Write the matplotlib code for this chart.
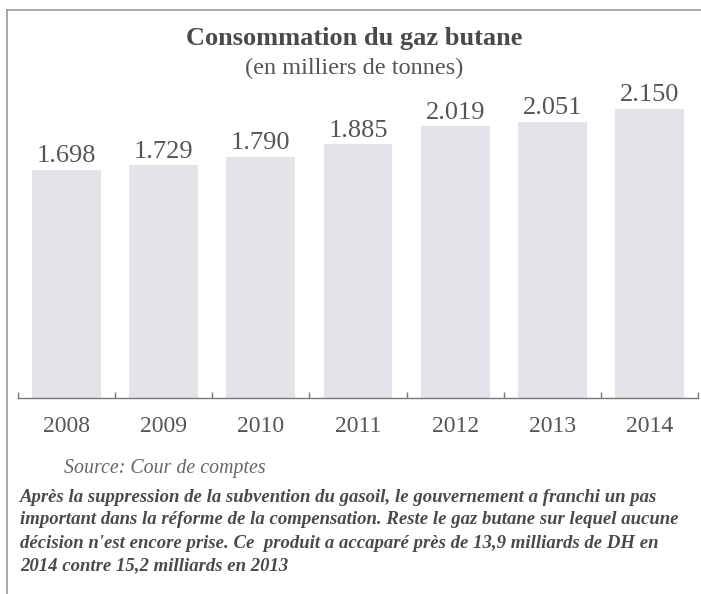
import matplotlib
matplotlib.use("Agg")
import matplotlib.pyplot as plt
from matplotlib.lines import Line2D

matplotlib.rcParams["font.family"] = ["Liberation Serif", "DejaVu Serif"]

years = ["2008", "2009", "2010", "2011", "2012", "2013", "2014"]
consumption = [1698, 1729, 1790, 1885, 2019, 2051, 2150]
value_labels = ["1.698", "1.729", "1.790", "1.885", "2.019", "2.051", "2.150"]

title = "Consommation du gaz butane"
subtitle = "(en milliers de tonnes)"
source = "Source: Cour de comptes"
comment_lines = [
    "Après la suppression de la subvention du gasoil, le gouvernement a franchi un pas",
    "important dans la réforme de la compensation. Reste le gaz butane sur lequel aucune",
    "décision n'est encore prise. Ce  produit a accaparé près de 13,9 milliards de DH en",
    "2014 contre 15,2 milliards en 2013",
]

W, H = 701, 594


def fx(px):
    return px / W


def fy(py):
    return 1 - py / H


def main():
    fig = plt.figure(figsize=(W / 100, H / 100), dpi=100)
    fig.patch.set_facecolor("white")

    # axes: baseline at y=398 px, x from 18 to 698 px
    ax = fig.add_axes([fx(18), fy(398), fx(698) - fx(18), fy(12) - fy(398)])
    x = list(range(len(years)))
    ax.bar(x, consumption, width=0.71, color="#e3e3e9", edgecolor="none")
    ax.set_xlim(-0.5, len(years) - 0.5)
    ax.set_ylim(0, 2870)

    for xi, v, lab in zip(x, consumption, value_labels):
        ax.annotate(lab, (xi, v), xytext=(0, 2), textcoords="offset points",
                    ha="center", va="bottom", fontsize=19, color="#555555")

    for side in ["top", "right", "left"]:
        ax.spines[side].set_visible(False)
    ax.spines["bottom"].set_color("#777777")
    ax.spines["bottom"].set_linewidth(1.0)
    ax.set_yticks([])
    ax.set_xticks([i - 0.5 for i in range(len(years) + 1)])
    ax.set_xticklabels([])
    ax.tick_params(axis="x", which="major", direction="in", length=4, width=1, color="#777777")
    ax.set_xticks(x, minor=True)
    ax.set_xticklabels(years, minor=True)
    ax.tick_params(axis="x", which="minor", length=0, pad=13, labelsize=17, labelcolor="#555555")

    fig.text(fx(354), fy(38), title, ha="center", va="center", fontsize=19,
             fontweight="bold", color="#4a4a4a")
    fig.text(fx(354), fy(68), subtitle, ha="center", va="center", fontsize=17.5,
             color="#555555")

    fig.text(fx(64), fy(469), source, ha="left", va="center", fontsize=14.3,
             style="italic", color="#666666")
    for i, line in enumerate(comment_lines):
        fig.text(fx(20), fy(497 + 23 * i), line, ha="left", va="center", fontsize=13.5,
                 style="italic", fontweight="bold", color="#4a4a4a")

    # scanned frame: top and left edges
    fig.add_artist(Line2D([fx(7), fx(701)], [fy(10), fy(10)], color="#9a9a9a", lw=1.2))
    fig.add_artist(Line2D([fx(7), fx(7)], [fy(10), fy(594)], color="#9a9a9a", lw=1.2))

    fig.savefig("out.png", dpi=100)
    plt.close(fig)


if __name__ == "__main__":
    main()
